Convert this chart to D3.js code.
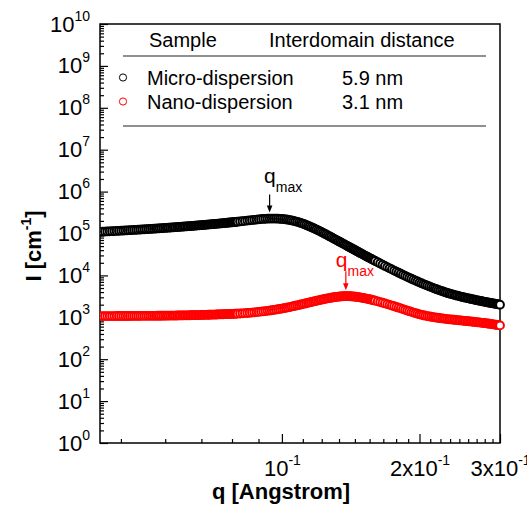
<!DOCTYPE html>
<html>
<head>
<meta charset="utf-8">
<script src="https://cdn.jsdelivr.net/npm/d3@7"></script>
<style>
  html, body { margin: 0; padding: 0; background: #fff; }
  svg { display: block; }
</style>
</head>
<body>
<svg id="chart" width="527" height="509"></svg>
<script>
// Scattering vector q [1/Angstrom]
const q = [
  0.0400,0.0405,0.0410,0.0415,0.0420,0.0425,0.0430,0.0435,0.0440,0.0445,
  0.0450,0.0455,0.0460,0.0465,0.0470,0.0475,0.0480,0.0485,0.0490,0.0495,
  0.0500,0.0505,0.0510,0.0515,0.0520,0.0525,0.0530,0.0535,0.0540,0.0545,
  0.0550,0.0555,0.0560,0.0565,0.0570,0.0575,0.0580,0.0585,0.0590,0.0595,
  0.0600,0.0605,0.0610,0.0615,0.0620,0.0625,0.0630,0.0635,0.0640,0.0645,
  0.0650,0.0655,0.0660,0.0665,0.0670,0.0675,0.0680,0.0685,0.0690,0.0695,
  0.0700,0.0705,0.0710,0.0715,0.0720,0.0725,0.0730,0.0735,0.0740,0.0745,
  0.0750,0.0755,0.0760,0.0765,0.0770,0.0775,0.0780,0.0785,0.0790,0.0795,
  0.0800,
  0.081,0.082,0.083,0.084,0.085,0.086,0.087,0.088,0.089,0.090,
  0.091,0.092,0.093,0.094,0.095,0.096,0.097,0.098,0.099,0.100,
  0.101,0.102,0.103,0.104,0.105,0.106,0.107,0.108,0.109,0.110,
  0.111,0.112,0.113,0.114,0.115,0.116,0.117,0.118,0.119,0.120,
  0.121,0.122,0.123,0.124,0.125,0.126,0.127,0.128,0.129,0.130,
  0.131,0.132,0.133,0.134,0.135,0.136,0.137,0.138,0.139,0.140,
  0.141,0.142,0.143,0.144,0.145,0.146,0.147,0.148,0.149,0.150,
  0.151,0.152,0.153,0.154,0.155,0.156,0.157,0.158,0.159,0.160,
  0.162,0.164,0.166,0.168,0.170,0.172,0.174,0.176,0.178,0.180,
  0.182,0.184,0.186,0.188,0.190,0.192,0.194,0.196,0.198,0.200,
  0.202,0.204,0.206,0.208,0.210,0.212,0.214,0.216,0.218,0.220,
  0.222,0.224,0.226,0.228,0.230,0.232,0.234,0.236,0.238,0.240,
  0.242,0.244,0.246,0.248,0.250,0.252,0.254,0.256,0.258,0.260,
  0.262,0.264,0.266,0.268,0.270,0.272,0.274,0.276,0.278,0.280,
  0.282,0.284,0.286,0.288,0.290,0.292,0.294,0.296,0.298,0.300
];

// Intensity I [cm^-1], micro-dispersion sample
const microI = [
  1.097e5,1.104e5,1.112e5,1.119e5,1.127e5,1.135e5,1.143e5,1.151e5,1.159e5,1.167e5,
  1.175e5,1.183e5,1.191e5,1.200e5,1.208e5,1.216e5,1.225e5,1.233e5,1.242e5,1.250e5,
  1.259e5,1.268e5,1.276e5,1.285e5,1.294e5,1.303e5,1.312e5,1.321e5,1.331e5,1.340e5,
  1.349e5,1.358e5,1.368e5,1.377e5,1.387e5,1.396e5,1.406e5,1.416e5,1.426e5,1.436e5,
  1.445e5,1.456e5,1.466e5,1.476e5,1.486e5,1.496e5,1.507e5,1.517e5,1.528e5,1.538e5,
  1.549e5,1.560e5,1.570e5,1.581e5,1.592e5,1.603e5,1.614e5,1.626e5,1.637e5,1.648e5,
  1.660e5,1.671e5,1.683e5,1.694e5,1.706e5,1.718e5,1.730e5,1.742e5,1.754e5,1.766e5,
  1.778e5,1.791e5,1.803e5,1.816e5,1.828e5,1.841e5,1.854e5,1.866e5,1.879e5,1.892e5,
  1.905e5,
  1.937e5,1.968e5,2.000e5,2.033e5,2.065e5,2.094e5,2.123e5,2.153e5,2.178e5,2.203e5,
  2.224e5,2.244e5,2.260e5,2.270e5,2.275e5,2.275e5,2.270e5,2.260e5,2.244e5,2.224e5,
  2.198e5,2.168e5,2.133e5,2.094e5,2.051e5,2.004e5,1.954e5,1.901e5,1.845e5,1.786e5,
  1.726e5,1.664e5,1.600e5,1.538e5,1.476e5,1.416e5,1.355e5,1.297e5,1.242e5,1.189e5,
  1.138e5,1.086e5,1.038e5,9.908e4,9.463e4,9.037e4,8.630e4,8.242e4,7.871e4,7.517e4,
  7.178e4,6.855e4,6.562e4,6.281e4,6.012e4,5.754e4,5.508e4,5.272e4,5.047e4,4.831e4,
  4.635e4,4.447e4,4.266e4,4.093e4,3.926e4,3.767e4,3.614e4,3.475e4,3.342e4,3.214e4,
  3.090e4,2.972e4,2.858e4,2.754e4,2.655e4,2.558e4,2.466e4,2.377e4,2.291e4,2.208e4,
  2.061e4,1.923e4,1.799e4,1.683e4,1.578e4,1.479e4,1.390e4,1.306e4,1.230e4,1.159e4,
  1.094e4,1.033e4,9.772e3,9.248e3,8.771e3,8.318e3,7.907e3,7.517e3,7.161e3,6.824e3,
  6.517e3,6.224e3,5.957e3,5.702e3,5.470e3,5.248e3,5.047e3,4.853e3,4.677e3,4.509e3,
  4.355e3,4.208e3,4.074e3,3.945e3,3.820e3,3.715e3,3.614e3,3.524e3,3.435e3,3.350e3,
  3.274e3,3.199e3,3.126e3,3.062e3,2.999e3,2.938e3,2.877e3,2.825e3,2.773e3,2.723e3,
  2.673e3,2.624e3,2.576e3,2.535e3,2.495e3,2.455e3,2.416e3,2.377e3,2.339e3,2.301e3,
  2.265e3,2.234e3,2.203e3,2.173e3,2.143e3,2.114e3,2.084e3,2.056e3,2.028e3,2.000e3
];

// Intensity I [cm^-1], nano-dispersion sample
const nanoI = [
  1072,1072,1072,1072,1072,1072,1072,1073,1073,1073,
  1074,1074,1075,1075,1076,1077,1077,1078,1079,1080,
  1080,1081,1082,1083,1084,1085,1087,1088,1089,1090,
  1092,1093,1094,1096,1097,1099,1101,1102,1104,1106,
  1108,1109,1111,1113,1115,1117,1119,1122,1124,1126,
  1128,1131,1133,1136,1138,1141,1143,1146,1149,1151,
  1154,1157,1160,1163,1166,1169,1173,1176,1179,1182,
  1186,1189,1193,1196,1200,1204,1207,1211,1215,1219,
  1223,
  1233,1245,1256,1268,1282,1297,1312,1327,1346,1365,
  1383,1403,1426,1448,1472,1500,1528,1556,1585,1618,
  1652,1687,1722,1758,1799,1841,1884,1928,1972,2018,
  2066,2113,2163,2213,2265,2317,2371,2427,2478,2529,
  2582,2636,2686,2735,2786,2831,2877,2924,2965,3006,
  3041,3076,3104,3133,3155,3177,3192,3199,3199,3192,
  3177,3162,3140,3119,3090,3062,3027,2992,2958,2918,
  2877,2838,2799,2754,2711,2667,2624,2582,2535,2489,
  2399,2312,2229,2143,2061,1982,1905,1833,1762,1694,
  1630,1567,1507,1448,1397,1346,1300,1256,1216,1180,
  1148,1119,1094,1072,1050,1030,1012,995,980,966,
  953,940,929,918,908,897,889,881,873,865,
  857,849,841,834,826,818,811,804,796,789,
  782,774,767,760,753,746,740,733,726,719,
  711,703,695,687,679,671,664,656,649,641
];

// Series metadata
const seriesNames = ["Micro-dispersion", "Nano-dispersion"];
const interdomainDistance = ["5.9 nm", "3.1 nm"];
const seriesColors = ["#000000", "#ff0000"];
const peakQ = [0.094, 0.138];          // q_max of each sample
const legendHeaders = ["Sample", "Interdomain distance"];

// Axis ticks and labels
const yTickExponents = [0, 1, 2, 3, 4, 5, 6, 7, 8, 9, 10];
const xTickValues = [0.1, 0.2, 0.3];
const xTickLabels = [["10", "-1"], ["2x10", "-1"], ["3x10", "-1"]];
const xTitle = "q [Angstrom]";

// ---------------------------------------------------------------
const FONT = '"Liberation Sans", Arial, Helvetica, sans-serif';
const W = 527, H = 509;
const plot = { left: 100, right: 500, top: 24, bottom: 443 };

const svg = d3.select("#chart");
svg.append("rect").attr("width", W).attr("height", H).attr("fill", "#fff");

const x = d3.scaleLog().domain([0.04, 0.3]).range([plot.left, plot.right]);
const y = d3.scaleLog().domain([1, 1e10]).range([plot.bottom, plot.top]);

const yMajor = yTickExponents.map(e => Math.pow(10, e));
const yMinor = [];
yTickExponents.slice(0, -1).forEach(e => {
  for (let m = 2; m <= 9; m++) yMinor.push(m * Math.pow(10, e));
});
// Linear minor ticks: eight between consecutive 0.1 steps
const xMinor = d3.range(4, 28).filter(k => k % 9 !== 0).map(k => k * 0.1 / 9);

function styleAxis(g) {
  g.attr("font-family", null).attr("font-size", null);
  g.select(".domain").remove();
  g.selectAll(".tick text").remove();
  g.selectAll(".tick line").attr("stroke", "#000").attr("stroke-width", 1.2);
}

// y axis (ticks point inward)
svg.append("g").attr("transform", `translate(${plot.left},0)`)
  .call(d3.axisLeft(y).tickValues(yMinor).tickSize(-4).tickSizeOuter(0).tickFormat(""))
  .call(styleAxis);
const gyMajor = svg.append("g").attr("transform", `translate(${plot.left},0)`)
  .call(d3.axisLeft(y).tickValues(yMajor).tickSize(-8).tickSizeOuter(0).tickFormat(""))
  .call(styleAxis);
gyMajor.selectAll(".tick").each(function (d, i) {
  const t = d3.select(this).append("text")
    .attr("x", -10).attr("y", 7)
    .attr("text-anchor", "end").attr("fill", "#000")
    .style("font-family", FONT).style("font-size", "22px");
  t.append("tspan").text("10");
  t.append("tspan").attr("dy", -11).style("font-size", "14px").text(yTickExponents[i]);
});

// x axis (ticks point inward)
svg.append("g").attr("transform", `translate(0,${plot.bottom})`)
  .call(d3.axisBottom(x).tickValues(xMinor).tickSize(-4).tickSizeOuter(0).tickFormat(""))
  .call(styleAxis);
const gxMajor = svg.append("g").attr("transform", `translate(0,${plot.bottom})`)
  .call(d3.axisBottom(x).tickValues(xTickValues).tickSize(-9).tickSizeOuter(0).tickFormat(""))
  .call(styleAxis);
gxMajor.selectAll(".tick").each(function (d, i) {
  const t = d3.select(this).append("text")
    .attr("y", 33).attr("text-anchor", "middle").attr("fill", "#000")
    .style("font-family", FONT).style("font-size", "22px");
  t.append("tspan").text(xTickLabels[i][0]);
  t.append("tspan").attr("dy", -11).style("font-size", "14px").text(xTickLabels[i][1]);
});

// plot frame
svg.append("rect")
  .attr("x", plot.left).attr("y", plot.top)
  .attr("width", plot.right - plot.left).attr("height", plot.bottom - plot.top)
  .attr("fill", "none").attr("stroke", "#000").attr("stroke-width", 1.5);

// axis titles
svg.append("text")
  .attr("x", 281).attr("y", 499).attr("text-anchor", "middle")
  .style("font-family", FONT).style("font-size", "22px").style("font-weight", "bold")
  .text(xTitle);

const yt = svg.append("text")
  .attr("transform", "translate(41,246) rotate(-90)")
  .attr("text-anchor", "middle")
  .style("font-family", FONT).style("font-size", "22px").style("font-weight", "bold");
yt.append("tspan").text("I [cm");
yt.append("tspan").attr("dy", -10).style("font-size", "14px").text("-1");
yt.append("tspan").attr("dy", 10).text("]");

// data markers: open circles with white fill
svg.append("clipPath").attr("id", "clipData")
  .append("rect").attr("x", plot.left).attr("y", 0)
  .attr("width", W - plot.left).attr("height", H);

const seriesValues = [microI, nanoI];
const R = 3.9;
seriesValues.forEach((vals, s) => {
  const pts = q.map((qv, i) => ({ q: qv, I: vals[i] }));
  svg.append("g").attr("clip-path", "url(#clipData)")
    .selectAll("circle").data(pts).join("circle")
    .attr("cx", d => x(d.q)).attr("cy", d => y(d.I)).attr("r", R)
    .attr("fill", "#fff").attr("stroke", seriesColors[s]).attr("stroke-width", 2);
});

// q_max annotations
const annotLayout = [
  { len: 18, textDy: 29.5, textDx: -5.5 },
  { len: 19, textDy: 23.5, textDx: -10 }
];
seriesValues.forEach((vals, s) => {
  const idx = d3.minIndex(q, v => Math.abs(v - peakQ[s]));
  const ax = x(q[idx]);
  const tip = y(vals[idx]) - 6;
  const L = annotLayout[s];
  const c = seriesColors[s];
  svg.append("line")
    .attr("x1", ax).attr("x2", ax).attr("y1", tip - L.len).attr("y2", tip - 5)
    .attr("stroke", c).attr("stroke-width", 1.2);
  svg.append("path")
    .attr("d", `M${ax},${tip} L${ax - 2.8},${tip - 7} L${ax + 2.8},${tip - 7} Z`)
    .attr("fill", c);
  const t = svg.append("text")
    .attr("x", ax + L.textDx).attr("y", tip - L.textDy)
    .attr("fill", c).style("font-family", FONT).style("font-size", "21px");
  t.append("tspan").text("q");
  t.append("tspan").attr("dy", 9).style("font-size", "14px").text("max");
});

// legend table
const lg = svg.append("g").style("font-family", FONT).style("font-size", "20px");
lg.append("text").attr("x", 149).attr("y", 46.5).text(legendHeaders[0]);
lg.append("text").attr("x", 269).attr("y", 46.5).text(legendHeaders[1]);
[56, 126].forEach(ly => {
  lg.append("line").attr("x1", 123).attr("x2", 486).attr("y1", ly).attr("y2", ly)
    .attr("stroke", "#222").attr("stroke-width", 1.2);
});
const rowY = [77.5, 101.5];
seriesNames.forEach((name, i) => {
  lg.append("circle").attr("cx", 123).attr("cy", rowY[i]).attr("r", 3.6)
    .attr("fill", "#fff").attr("stroke", seriesColors[i]).attr("stroke-width", 1);
  lg.append("text").attr("x", 147).attr("y", rowY[i] + 7).text(name);
  lg.append("text").attr("x", 342).attr("y", rowY[i] + 7).text(interdomainDistance[i]);
});
</script>
</body>
</html>
